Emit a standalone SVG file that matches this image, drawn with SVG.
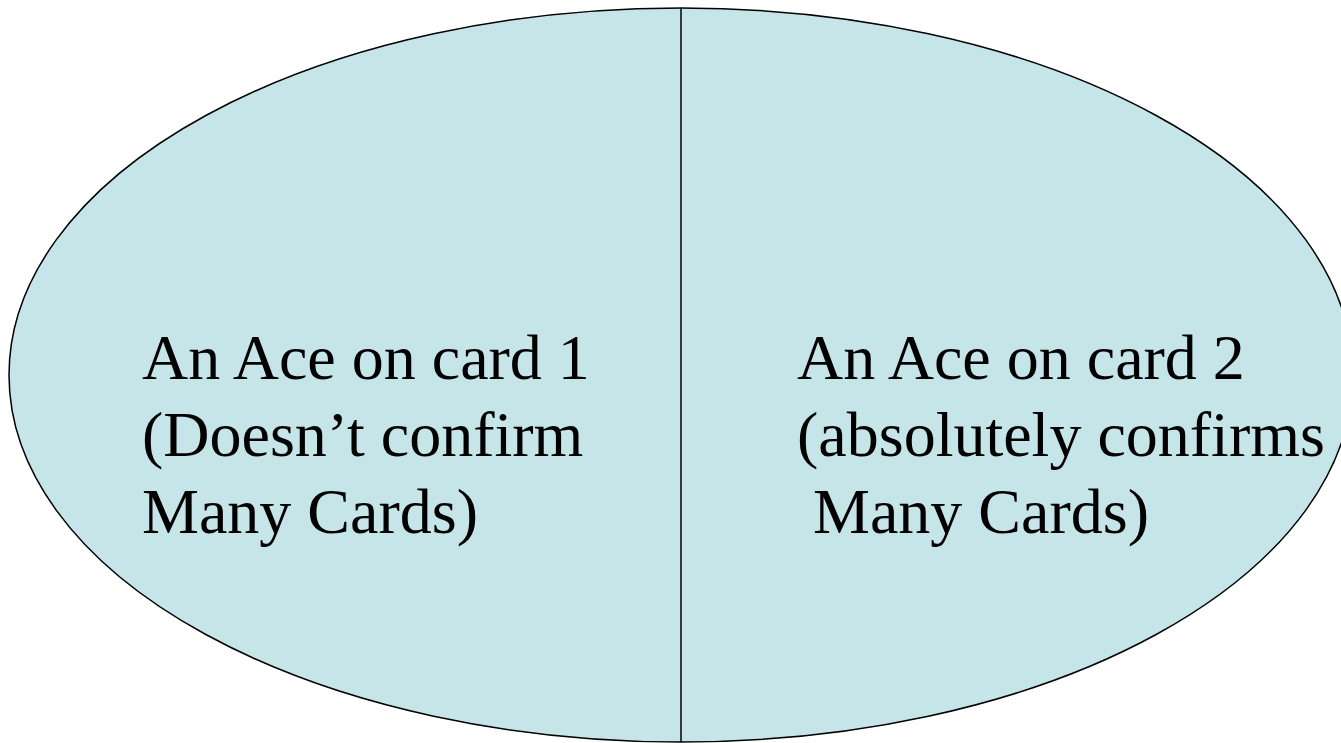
<svg xmlns="http://www.w3.org/2000/svg" width="1341" height="743" viewBox="0 0 1341 743">
<style>
.shape{fill:#C6E5E9;stroke:#000;stroke-width:1.5}
.divider{stroke:#000;stroke-width:1.5;fill:none}
.lbl{font-family:"Liberation Serif","Times New Roman",serif;font-size:64px;fill:#000;white-space:pre}
</style>
<rect width="1341" height="743" fill="#fff"/>
<g id="set">
<ellipse class="shape" cx="681" cy="375" rx="672" ry="367"/>
</g>
<g id="connectors">
<line class="divider" x1="681" y1="8" x2="681" y2="742"/>
</g>
<g id="region-left">
<text class="lbl" x="142" y="379">An Ace on card 1</text>
<text class="lbl" x="142" y="456">(Doesn’t confirm</text>
<text class="lbl" x="142" y="533">Many Cards)</text>
</g>
<g id="region-right">
<text class="lbl" x="797" y="379">An Ace on card 2</text>
<text class="lbl" x="797" y="456">(absolutely confirms</text>
<text class="lbl" x="797" y="533" xml:space="preserve"> Many Cards)</text>
</g>
</svg>
